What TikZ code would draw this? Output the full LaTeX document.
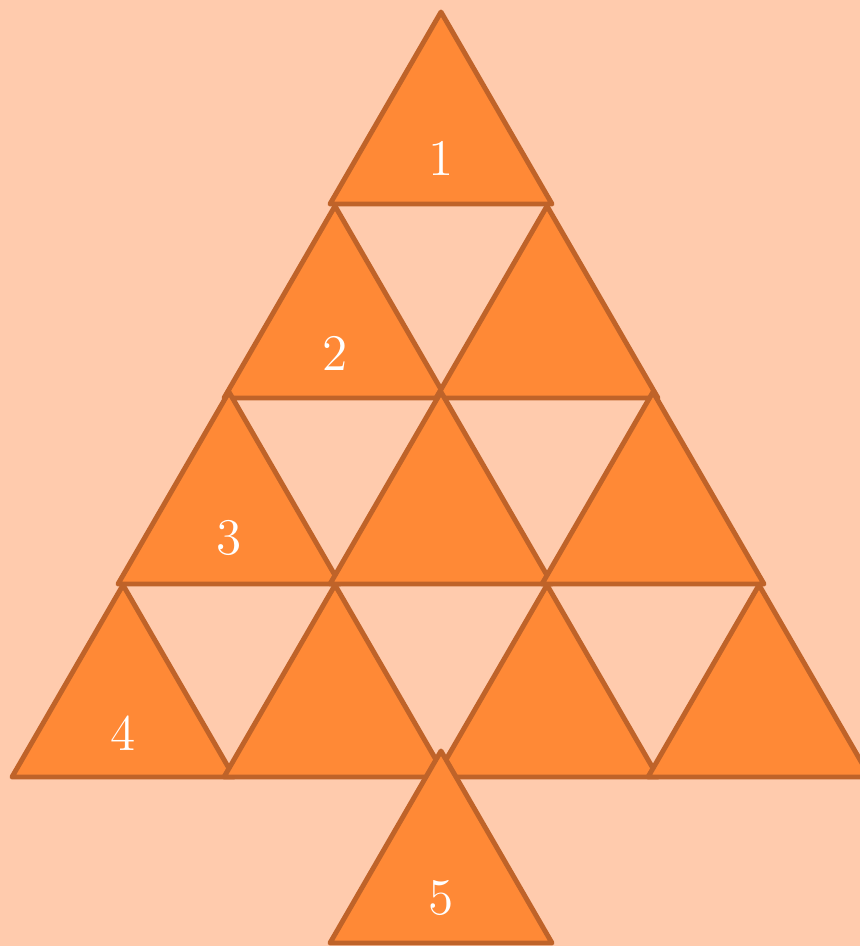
\documentclass[tikz,border=0pt]{standalone}
\usepackage{xcolor}
\definecolor{PeachBg}{RGB}{255,203,173}
\definecolor{TriFill}{RGB}{255,137,54}
\definecolor{TriEdge}{RGB}{191,99,41}
\usepackage{tikz}
\tikzset{
  tri/.style={fill=TriFill, draw=TriEdge, line width=1.4pt, line join=round},
  num/.style={text=white, font=\fontsize{14.6}{17}\selectfont}
}
% triangle given by its apex
\newcommand{\tripiece}[2]{\draw[tri] (#1,#2) -- ++(-1.11,-1.92) -- ++(2.22,0) -- cycle;}

\begin{document}
\begin{tikzpicture}
    \useasboundingbox (0,0) rectangle (8.6,9.46);
    % Background
    \fill[PeachBg] (0,0) rectangle (8.6,9.46);

    % Row 1
    \tripiece{4.41}{9.34}
    % Row 2
    \tripiece{3.35}{7.40}
    \tripiece{5.47}{7.40}
    % Row 3
    \tripiece{2.29}{5.54}
    \tripiece{4.41}{5.54}
    \tripiece{6.53}{5.54}
    % Row 4
    \tripiece{1.23}{3.61}
    \tripiece{3.35}{3.61}
    \tripiece{5.47}{3.61}
    \tripiece{7.59}{3.61}
    % Trunk
    \tripiece{4.41}{1.95}

    % Numbers
    \node[num] (n1) at (4.41,7.88) {1};
    \node[num] (n2) at (3.35,5.93) {2};
    \node[num] (n3) at (2.29,4.08) {3};
    \node[num] (n4) at (1.23,2.13) {4};
    \node[num] (n5) at (4.41,0.48) {5};
\end{tikzpicture}
\end{document}
